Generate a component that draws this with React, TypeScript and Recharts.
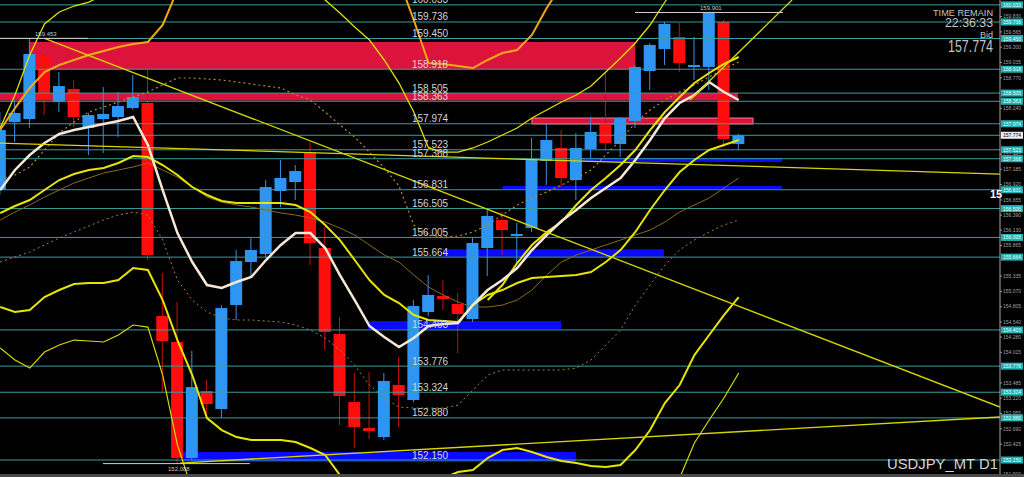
import React from "react";
import { ComposedChart, Bar, Line, XAxis, YAxis, ReferenceLine, ReferenceArea } from "recharts";

const FONT = "'Liberation Sans', Arial, sans-serif";

// bar index (daily candles, oldest visible = 0)
const barIndex = [0,1,2,3,4,5,6,7,8,9,10,11,12,13,14,15,16,17,18,19,20,21,22,23,24,25,26,27,28,29,30,31,32,33,34,35,36,37,38,39,40,41,42,43,44,45,46,47,48,49,50];

const opens = [156.826,158.004,158.056,159.147,158.350,158.576,157.900,158.056,158.091,158.246,158.333,154.644,154.194,152.184,153.345,153.033,154.834,155.579,155.718,156.809,156.965,157.467,155.822,154.332,153.154,152.704,152.548,153.449,153.189,154.713,154.990,154.852,154.592,155.822,156.307,156.047,156.168,157.328,157.554,156.999,157.536,157.987,157.623,158.021,158.887,159.268,159.476,158.974,158.957,159.736,157.623];
const highs = [158.177,158.385,159.453,159.182,158.870,158.731,158.160,158.610,158.524,158.818,158.905,155.389,154.886,154.038,153.535,154.834,155.787,155.995,156.999,157.346,157.259,157.658,156.185,154.627,153.657,153.674,153.657,153.934,154.921,155.354,155.267,155.042,155.995,156.480,156.445,156.255,157.727,157.969,157.865,157.813,158.091,158.870,158.091,158.991,159.372,159.736,159.719,159.476,159.901,159.771,157.800];
const lows = [156.740,157.658,157.900,158.125,158.177,157.917,157.432,157.467,157.744,158.212,155.614,153.310,152.088,152.150,152.895,152.877,154.575,155.319,155.648,156.532,156.653,155.527,154.055,152.756,152.358,152.514,152.496,152.721,153.154,154.644,154.748,154.003,154.540,155.337,155.700,155.562,156.099,156.913,156.878,156.653,157.380,157.519,157.398,157.900,158.558,158.991,158.870,158.731,158.558,157.571,157.519];
const closes = [157.865,158.160,159.182,158.402,158.627,158.091,158.125,158.143,158.281,158.437,155.700,154.211,152.184,153.414,153.120,154.782,155.596,155.787,156.878,157.034,157.155,155.908,154.367,153.258,152.721,152.652,153.518,153.276,154.817,155.008,154.938,154.679,155.908,156.376,156.133,156.064,157.346,157.692,157.034,157.554,157.831,157.640,158.073,158.957,159.338,159.701,159.026,158.991,159.892,157.710,157.774];

// indicator lines
const maFast = [156.826,157.173,157.432,157.640,157.796,157.865,157.917,157.969,158.021,158.091,157.606,156.826,156.081,155.579,155.181,155.129,155.233,155.319,155.614,155.874,156.081,156.081,155.822,155.354,154.921,154.471,154.280,154.107,154.263,154.471,154.505,154.523,154.834,155.094,155.267,155.475,155.787,156.047,156.289,156.480,156.688,156.861,157.034,157.346,157.692,158.073,158.333,158.472,158.697,158.524,158.385];
const bandOuterUpper = [157.900,158.472,159.164,159.701,159.909,160.013,160.082,160.204,160.377,160.5,160.6,160.6,160.6,160.6,160.6,160.6,160.6,160.6,160.6,160.6,160.5,160.463,160.117,159.892,159.649,159.424,159.078,158.679,158.177,157.554,157.484,157.484,157.554,157.658,157.779,157.900,158.073,158.212,158.350,158.472,158.627,158.870,159.112,159.372,159.684,160.082,160.463,160.6,160.6,160.6,160.6];
const bandOrange = [157.865,158.246,158.593,158.870,158.991,159.078,159.164,159.234,159.303,159.355,159.390,159.684,160.290,160.6,160.6,160.6,160.6,160.6,160.6,160.6,160.6,160.6,160.6,160.6,160.6,160.6,160.6,160.463,159.771,159.026,159.009,158.974,158.939,159.078,159.199,159.251,159.511,159.978,160.377,160.6,160.6,160.6,160.6,160.6,160.6,160.6,160.6,160.6,160.6,160.6,160.6];
const bandInnerLower = [156.428,156.549,156.653,156.826,156.999,157.103,157.173,157.207,157.294,157.415,157.398,157.259,157.086,156.878,156.740,156.636,156.601,156.601,156.601,156.601,156.566,156.445,156.220,155.960,155.614,155.267,155.008,154.869,154.661,154.575,154.557,154.540,154.834,155.008,155.094,155.215,155.302,155.319,155.337,155.354,155.406,155.579,155.787,156.099,156.480,156.826,157.138,157.346,157.519,157.606,157.692];
const bandInnerUpper = [null,null,null,null,null,null,null,null,null,null,null,null,null,null,null,null,null,null,null,null,null,null,null,null,null,null,null,null,null,null,null,null,null,154.921,155.181,155.562,155.874,156.099,156.272,156.566,156.826,157.034,157.259,157.519,157.865,158.177,158.437,158.679,158.853,159.009,159.130];
const bandLower2 = [154.800,154.713,154.748,154.973,155.094,155.198,155.215,155.215,155.267,155.475,155.441,154.921,154.228,153.622,152.877,152.669,152.548,152.496,152.496,152.496,152.461,152.358,152.237,151.890,151.630,151.543,151.543,151.595,151.664,151.734,151.838,151.942,151.977,152.185,152.323,152.358,152.289,152.202,152.133,152.098,152.046,152.029,152.063,152.323,152.669,153.137,153.449,153.968,154.315,154.661,154.973];
const bandLower3 = [154.090,153.882,153.743,154.020,154.142,154.228,154.211,154.194,154.315,154.488,154.453,153.622,152.410,151.630,151.1,151.0,151.0,151.0,151.0,151.0,151.0,151.0,151.0,151.0,151.0,151.0,151.0,151.0,151.0,151.0,151.0,151.0,151.0,151.0,151.0,151.0,151.0,151.0,151.0,151.0,151.0,151.0,151.0,151.0,151.0,151.3,151.840,152.444,152.843,153.224,153.657];
const smaDotted = [156.999,157.086,157.225,157.519,157.813,158.004,158.177,158.264,158.350,158.437,158.524,158.645,158.766,158.766,158.749,158.731,158.697,158.662,158.627,158.593,158.472,158.385,158.177,157.952,157.744,157.484,157.207,156.895,156.220,156.047,156.012,156.029,156.099,156.220,156.393,156.566,156.688,156.792,156.913,157.034,157.173,157.432,157.692,157.987,158.212,158.385,158.524,158.645,158.783,158.922,159.043];
const smaDottedSlow = [155.579,155.666,155.752,155.874,155.995,156.099,156.203,156.307,156.393,156.445,156.393,155.960,155.267,154.921,154.713,154.609,154.575,154.575,154.557,154.540,154.488,154.401,154.263,154.055,153.795,153.449,153.224,153.068,153.050,153.050,153.050,153.102,153.362,153.622,153.709,153.709,153.709,153.709,153.709,153.743,153.882,154.142,154.401,154.834,155.181,155.527,155.787,155.960,156.099,156.220,156.307];
const bandBrown = [156.307,156.445,156.566,156.705,156.826,156.947,157.034,157.121,157.173,157.225,157.294,157.173,157.051,156.878,156.705,156.618,156.566,156.532,156.480,156.428,156.393,156.341,156.272,156.168,156.047,155.874,155.700,155.579,155.354,155.146,155.008,154.886,154.800,154.800,154.834,154.921,155.094,155.354,155.579,155.700,155.787,155.874,155.960,156.047,156.133,156.272,156.445,156.566,156.688,156.861,157.034];

// horizontal levels
const levelPrices = [160.033,159.736,159.450,158.918,158.505,158.363,157.974,157.523,157.368,156.831,156.505,156.005,155.664,154.403,153.776,153.324,152.880,152.150];
const bidPrice = 157.774;
// price-scale tick labels that are not hidden behind level boxes
const axisTicks = [159.830,159.565,159.300,159.035,158.770,158.240,157.445,157.185,156.920,156.655,156.390,156.130,155.865,155.335,155.070,154.805,154.540,154.280,154.015,153.485,153.220,152.955,152.690,152.425,151.900];

// supply / demand zones [fromBar, toBar, lowPrice, highPrice]
const supplyZones = [
  [1.95, 43, 158.918, 159.39],
  [-0.0135, 49.95, 158.375, 158.505],
  [36, 50.97, 157.969, 158.073],
];
const demandZones = [
  [39.25, 52.93, 157.31, 157.38],
  [34, 52.93, 156.844, 156.896],
  [29.98, 44.94, 155.67, 155.80],
  [24.9, 37.97, 154.419, 154.557],
  [12.38, 38.98, 152.115, 152.289],
];
// trend lines [bar1, price1, bar2, price2]
const trendLines = [
  [3, 159.453, 67.69, 153.068],
  [-0.0135, 157.640, 67.69, 157.103],
  [12.17, 152.098, 67.69, 152.895],
  [46.7, 158.385, 53.61, 160.117],
];
// high / low markers [bar1, bar2, price, label]
const markers: [number, number, number, string][] = [
  [-0.0135, 5.94, 159.453, "159.453"],
  [42.98, 53.0, 159.901, "159.901"],
  [6.96, 16.91, 152.088, "152.088"],
];

const X_DOMAIN: [number, number] = [-0.0135, 67.69];
const Y_DOMAIN: [number, number] = [151.908, 160.117];

const rows = barIndex.map((i, k) => ({
  i,
  open: opens[k], high: highs[k], low: lows[k], close: closes[k],
  range: [lows[k], highs[k]],
  maFast: maFast[k],
  bandOuterUpper: bandOuterUpper[k],
  bandOrange: bandOrange[k],
  bandInnerLower: bandInnerLower[k],
  bandInnerUpper: bandInnerUpper[k],
  bandLower2: bandLower2[k],
  bandLower3: bandLower3[k],
  smaDotted: smaDotted[k],
  smaDottedSlow: smaDottedSlow[k],
  bandBrown: bandBrown[k],
}));

const TEAL = "#3a9e9e";

function Candle(props: any) {
  const { x, y, width, height, payload } = props;
  if (!payload || x == null || y == null) return null;
  const top = Math.min(y, y + height);
  const h = Math.abs(height);
  const span = payload.high - payload.low;
  const k = span > 0 ? h / span : 0;
  const py = (v: number) => top + (payload.high - v) * k;
  const up = payload.close >= payload.open;
  const bTop = py(Math.max(payload.open, payload.close));
  const bBot = py(Math.min(payload.open, payload.close));
  const cx = x + width / 2;
  return (
    <g>
      <line x1={cx} x2={cx} y1={top} y2={top + h} stroke={up ? "#3a8fe8" : "#c81010"} strokeWidth={1} />
      <rect x={x} y={bTop} width={width} height={Math.max(bBot - bTop, 2)} fill={up ? "#2f95f2" : "#ff0d0d"} />
    </g>
  );
}

const levelText = (text: string) => (p: any) => {
  const vb = p.viewBox || {};
  return (
    <text x={vb.x + 412} y={vb.y - 1.5} fontSize={10} fill="#d4d4d4" fontFamily={FONT}>{text}</text>
  );
};

const axisBox = (text: string, fill: string, color: string) => (p: any) => {
  const vb = p.viewBox || {};
  const rx = vb.x + vb.width + 1;
  return (
    <g>
      <rect x={rx} y={vb.y - 3.5} width={22} height={7} fill={fill} />
      <text x={rx + 11} y={vb.y + 2} fontSize={5} textAnchor="middle" fill={color} fontFamily={FONT}>{text}</text>
    </g>
  );
};

const markerText = (text: string, dx: number, dy: number) => (p: any) => {
  const vb = p.viewBox || {};
  return (
    <text x={vb.x + dx} y={vb.y + dy} fontSize={6} fill="#c8c8c8" fontFamily={FONT}>{text}</text>
  );
};

export default function App() {
  return (
    <div style={{ position: "absolute", left: 0, top: 0, width: 1024, height: 477, background: "#000", overflow: "hidden" }}>
      <ComposedChart width={1024} height={477} data={rows} margin={{ top: 0, right: 0, bottom: 3, left: 0 }}>
        <XAxis dataKey="i" type="number" domain={X_DOMAIN} allowDataOverflow hide />
        <YAxis
          orientation="right"
          type="number"
          domain={Y_DOMAIN}
          allowDataOverflow
          ticks={axisTicks}
          interval={0}
          width={24}
          tickSize={2}
          tickMargin={1}
          tick={{ fontSize: 5, fill: "#a0a0a0", fontFamily: FONT }}
          tickLine={{ stroke: "#999" }}
          axisLine={{ stroke: "#aaa" }}
          tickFormatter={(v: number) => v.toFixed(3)}
        />

        {levelPrices.map((p) => (
          <ReferenceLine key={"l" + p} y={p} stroke={TEAL} strokeWidth={1} label={axisBox(p.toFixed(3), "#20b2b2", "#e8ffff")} />
        ))}
        <ReferenceLine y={bidPrice} stroke={TEAL} strokeWidth={1} label={axisBox(bidPrice.toFixed(3), "#ececec", "#000")} />

        {supplyZones.map((z, k) => (
          <ReferenceArea key={"s" + k} x1={z[0]} x2={z[1]} y1={z[2]} y2={z[3]} fill="#dc143c" fillOpacity={1}
            stroke={k === 2 ? "#f08090" : "none"} strokeWidth={1} ifOverflow="hidden" />
        ))}
        {demandZones.map((z, k) => (
          <ReferenceArea key={"d" + k} x1={z[0]} x2={z[1]} y1={z[2]} y2={z[3]} fill="#0a0aff" fillOpacity={1} stroke="none" ifOverflow="hidden" />
        ))}

        <Bar dataKey="range" barSize={12} shape={Candle} isAnimationActive={false} />

        <Line dataKey="bandBrown" stroke="#8a6a1e" strokeWidth={1} dot={false} activeDot={false} isAnimationActive={false} />
        <Line dataKey="smaDottedSlow" stroke="#a0803a" strokeWidth={1} strokeDasharray="2 3" dot={false} activeDot={false} isAnimationActive={false} />
        <Line dataKey="smaDotted" stroke="#b88a30" strokeWidth={1.2} strokeDasharray="2 3" dot={false} activeDot={false} isAnimationActive={false} />
        <Line dataKey="bandLower3" stroke="#d8d800" strokeWidth={1.2} dot={false} activeDot={false} isAnimationActive={false} />
        <Line dataKey="bandLower2" stroke="#e6e600" strokeWidth={2} dot={false} activeDot={false} isAnimationActive={false} />
        <Line dataKey="bandInnerLower" stroke="#e6e600" strokeWidth={2} dot={false} activeDot={false} isAnimationActive={false} />
        <Line dataKey="bandInnerUpper" stroke="#e6e600" strokeWidth={2} dot={false} activeDot={false} isAnimationActive={false} />
        <Line dataKey="bandOuterUpper" stroke="#e0e000" strokeWidth={1.3} dot={false} activeDot={false} isAnimationActive={false} />
        <Line dataKey="bandOrange" stroke="#f0a818" strokeWidth={2} dot={false} activeDot={false} isAnimationActive={false} />
        <Line dataKey="maFast" stroke="#f6e7d6" strokeWidth={2.5} dot={false} activeDot={false} isAnimationActive={false} />

        {trendLines.map((t, k) => (
          <ReferenceLine key={"t" + k} segment={[{ x: t[0], y: t[1] }, { x: t[2], y: t[3] }]} stroke="#d6d600" strokeWidth={1.3} ifOverflow="hidden" />
        ))}

        {markers.map((m, k) => (
          <ReferenceLine key={"m" + k} segment={[{ x: m[0], y: m[2] }, { x: m[1], y: m[2] }]} stroke="#d0d0d0" strokeWidth={1}
            label={markerText(m[3], k === 0 ? 35 : 65, k === 2 ? 7 : -2)} />
        ))}

        {levelPrices.map((p) => (
          <ReferenceLine key={"t" + p} y={p} stroke="none" label={levelText(p.toFixed(3))} />
        ))}
      </ComposedChart>

      <svg width={1024} height={477} style={{ position: "absolute", left: 0, top: 0, pointerEvents: "none" }}>
        <text x={993} y={15.5} fontSize={9.5} fill="#c4c4c4" textAnchor="end" fontFamily={FONT} textLength={60} lengthAdjust="spacingAndGlyphs">TIME REMAIN</text>
        <text x={993} y={26.5} fontSize={12} fill="#c4c4c4" textAnchor="end" fontFamily={FONT} textLength={48} lengthAdjust="spacingAndGlyphs">22:36:33</text>
        <text x={993} y={38} fontSize={9} fill="#c4c4c4" textAnchor="end" fontFamily={FONT}>Bid</text>
        <text x={993} y={52} fontSize={16} fill="#c4c4c4" textAnchor="end" fontFamily={FONT} textLength={45} lengthAdjust="spacingAndGlyphs">157.774</text>
        <text x={990} y={198} fontSize={11} fontWeight="bold" fill="#ffffff" fontFamily={FONT}>15</text>
        <text x={998} y={469} fontSize={15} fill="#d4d4d4" textAnchor="end" fontFamily={FONT} textLength={111} lengthAdjust="spacingAndGlyphs">USDJPY_MT D1</text>
        <rect x={0} y={474} width={1024} height={3} fill="#4a4a4a" />
      </svg>
    </div>
  );
}
